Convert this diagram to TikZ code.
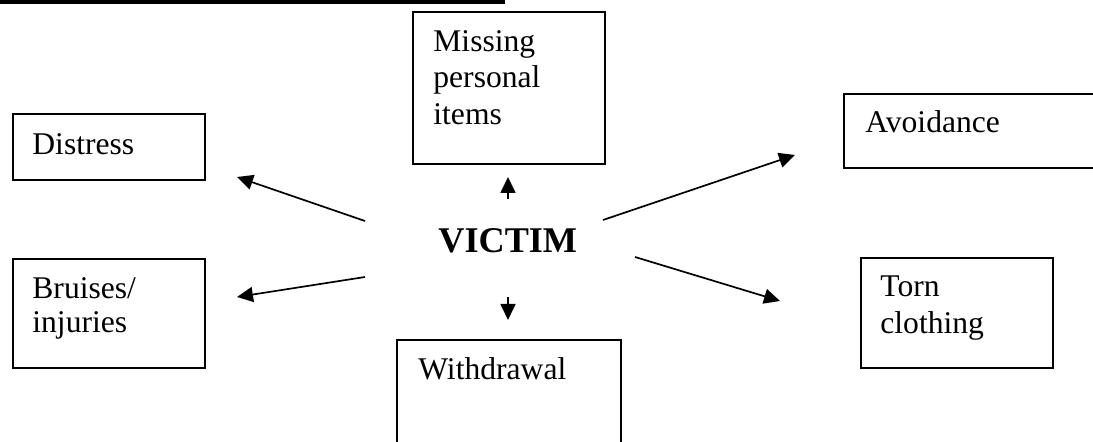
\documentclass[tikz,border=0pt]{standalone}
\usepackage{fontspec}
\setmainfont{Liberation Serif}
\usetikzlibrary{arrows.meta}
\begin{document}
\begin{tikzpicture}[x=0.5pt,y=-0.5pt,
  box/.style={draw=black,line width=1pt,rectangle,inner sep=0pt,anchor=north west},
  lbl/.style={inner sep=0pt,anchor=base west,font=\fontsize{15.8pt}{18pt}\selectfont},
  arr/.style={line width=0.85pt,-{Triangle[length=8pt,width=7.5pt]}}]
\useasboundingbox (0,0) rectangle (1093,442);
\clip (0,0) rectangle (1093,442);
% top bar
\fill[black] (0,-2) rectangle (505,4);
% boxes
\node[box,minimum width=96pt,minimum height=33pt] (distress) at (12,113) {};
\node[box,minimum width=96pt,minimum height=54.5pt] (bruises) at (12,258) {};
\node[box,minimum width=96pt,minimum height=76pt] (missing) at (412,11) {};
\node[box,minimum width=128.5pt,minimum height=37pt] (avoid) at (843,93) {};
\node[box,minimum width=96pt,minimum height=55pt] (torn) at (860,257) {};
\node[box,minimum width=112pt,minimum height=56pt] (withdraw) at (396,339) {};
% texts
\node[lbl] (tdistress) at (32,155) {Distress};
\node[lbl] (tbruises1) at (32,299) {Bruises/};
\node[lbl] (tbruises2) at (32,333) {injuries};
\node[lbl] (tmissing1) at (433,52) {Missing};
\node[lbl] (tmissing2) at (433,88) {personal};
\node[lbl] (tmissing3) at (433,125) {items};
\node[lbl] (tavoid) at (865,133) {Avoidance};
\node[lbl] (ttorn1) at (880,297) {Torn};
\node[lbl] (ttorn2) at (880,334) {clothing};
\node[lbl] (twithdraw) at (418,380) {Withdrawal};
\node[inner sep=0pt,anchor=base west,font=\fontsize{18.1pt}{21pt}\selectfont\bfseries] (victim) at (438,253) {VICTIM};
% arrow ends
\coordinate (dT) at (365,221); \coordinate (dH) at (237,177);
\coordinate (bT) at (365,277); \coordinate (bH) at (237,297);
\coordinate (aT) at (603,220); \coordinate (aH) at (795,155);
\coordinate (tT) at (635,257); \coordinate (tH) at (780,301);
\coordinate (uT) at (508,199); \coordinate (uH) at (508,177);
\coordinate (wT) at (508,297); \coordinate (wH) at (508,320);
\draw[arr] (dT) -- (dH);
\draw[arr] (bT) -- (bH);
\draw[arr] (aT) -- (aH);
\draw[arr] (tT) -- (tH);
\draw[arr] (uT) -- (uH);
\draw[arr] (wT) -- (wH);
\end{tikzpicture}
\end{document}
